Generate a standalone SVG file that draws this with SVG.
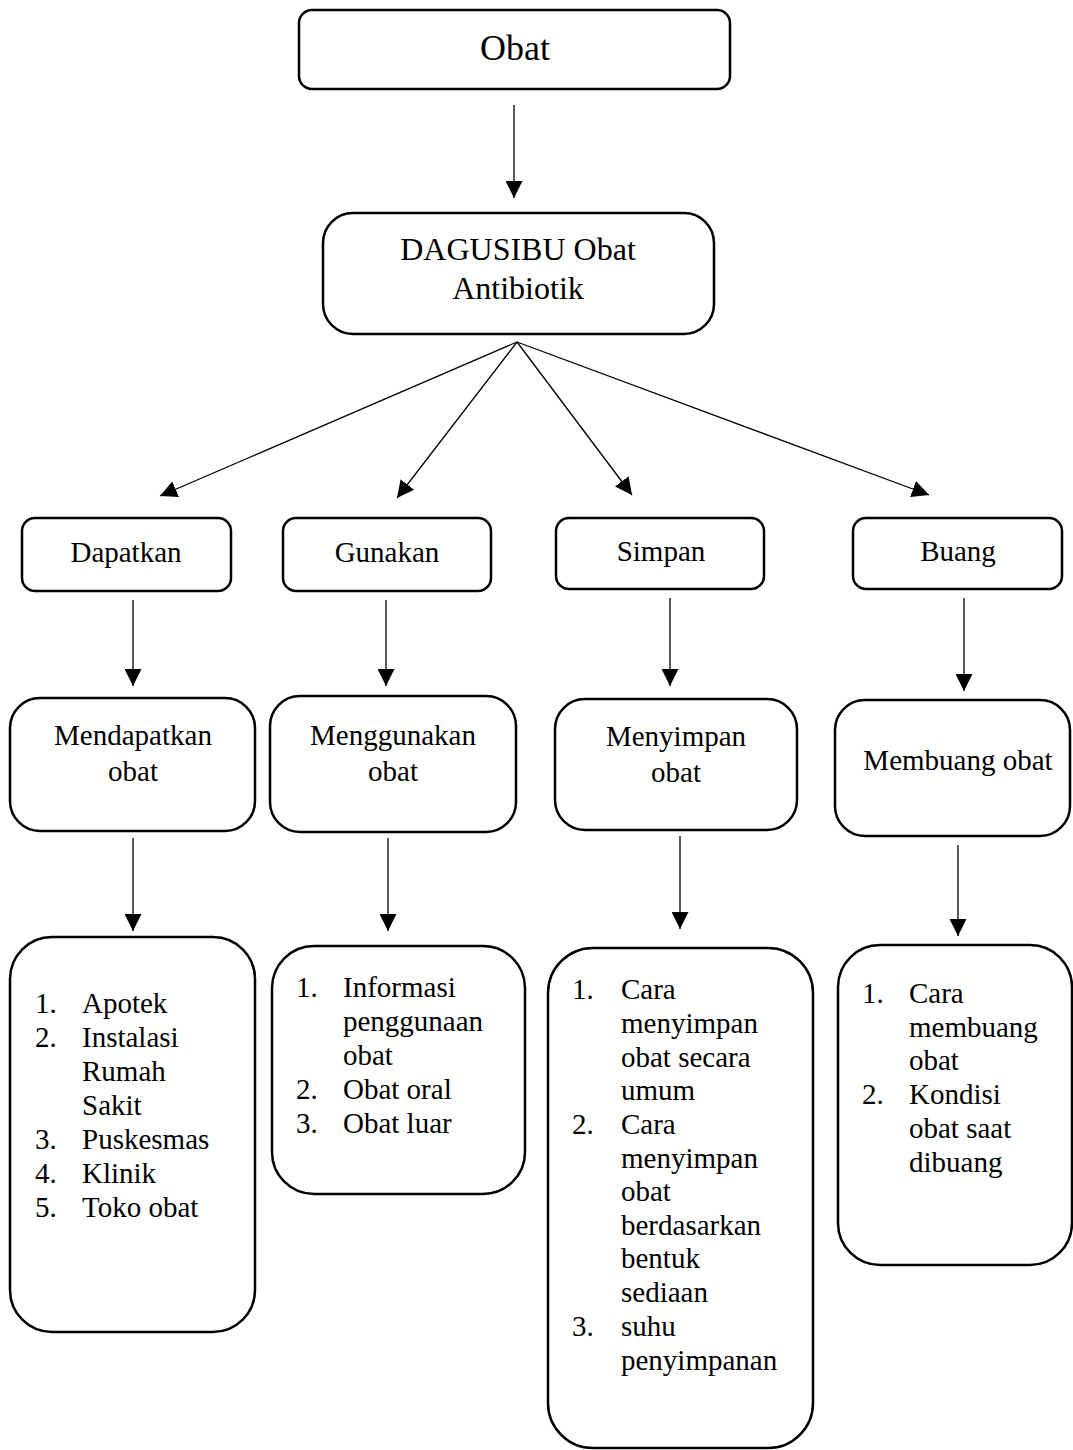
<svg xmlns="http://www.w3.org/2000/svg" width="1073" height="1450" viewBox="0 0 1073 1450">
<defs>
<style>
.box{fill:#fff;stroke:#000;stroke-width:2.5}
.t{font-family:"Liberation Serif","Times New Roman",serif;fill:#000;font-size:29px}
.c{text-anchor:middle}
.conn line{stroke:#000;stroke-width:1.3;marker-end:url(#ah)}
</style>
<marker id="ah" markerUnits="userSpaceOnUse" markerWidth="17" markerHeight="17" refX="16" refY="8" orient="auto" viewBox="0 0 16 16">
<path d="M0,0 L16,8 L0,16 z" fill="#000"/>
</marker>
</defs>
<rect width="1073" height="1450" fill="#fff"/>

<g id="conns" class="conn">
<line x1="514" y1="105" x2="514" y2="198"/>
<line x1="517" y1="342" x2="160" y2="496"/>
<line x1="517" y1="342" x2="397" y2="498"/>
<line x1="517" y1="342" x2="632" y2="495"/>
<line x1="517" y1="342" x2="929" y2="495"/>
<line x1="133" y1="600" x2="133" y2="686"/>
<line x1="386" y1="600" x2="386" y2="686"/>
<line x1="670" y1="598" x2="670" y2="686"/>
<line x1="964" y1="598" x2="964" y2="691"/>
<line x1="133" y1="838" x2="133" y2="931"/>
<line x1="388" y1="838" x2="388" y2="931"/>
<line x1="680" y1="836" x2="680" y2="929"/>
<line x1="958" y1="845" x2="958" y2="936"/>
</g>

<g id="obat">
<rect class="box" x="299" y="10" width="431" height="79" rx="13"/>
<text class="t c" x="515" y="60" style="font-size:36px">Obat</text>
</g>

<g id="dagusibu">
<rect class="box" x="323" y="213" width="391" height="121" rx="30"/>
<text class="t c" x="518" y="260" style="font-size:32px">DAGUSIBU Obat</text>
<text class="t c" x="518" y="299" style="font-size:32px">Antibiotik</text>
</g>

<g id="dapatkan">
<rect class="box" x="22" y="518" width="209" height="73" rx="13"/>
<text class="t c" x="126" y="562">Dapatkan</text>
</g>
<g id="gunakan">
<rect class="box" x="283" y="518" width="208" height="73" rx="13"/>
<text class="t c" x="387" y="562">Gunakan</text>
</g>
<g id="simpan">
<rect class="box" x="556" y="518" width="208" height="71" rx="13"/>
<text class="t c" x="661" y="561">Simpan</text>
</g>
<g id="buang">
<rect class="box" x="853" y="518" width="209" height="71" rx="13"/>
<text class="t c" x="958" y="561">Buang</text>
</g>

<g id="mendapatkan">
<rect class="box" x="10" y="698" width="245" height="133" rx="30"/>
<text class="t c" x="133" y="745">Mendapatkan</text>
<text class="t c" x="133" y="781">obat</text>
</g>
<g id="menggunakan">
<rect class="box" x="270" y="696" width="246" height="136" rx="30"/>
<text class="t c" x="393" y="745">Menggunakan</text>
<text class="t c" x="393" y="781">obat</text>
</g>
<g id="menyimpan">
<rect class="box" x="555" y="699" width="242" height="131" rx="30"/>
<text class="t c" x="676" y="746">Menyimpan</text>
<text class="t c" x="676" y="782">obat</text>
</g>
<g id="membuang">
<rect class="box" x="835" y="700" width="235" height="136" rx="30"/>
<text class="t c" x="958" y="770">Membuang obat</text>
</g>

<g id="list-dapatkan">
<rect class="box" x="10" y="937" width="245" height="395" rx="42"/>
<text class="t" x="35" y="1013">1.</text><text class="t" x="82" y="1013">Apotek</text>
<text class="t" x="35" y="1047">2.</text><text class="t" x="82" y="1047">Instalasi</text>
<text class="t" x="82" y="1081">Rumah</text>
<text class="t" x="82" y="1115">Sakit</text>
<text class="t" x="35" y="1149">3.</text><text class="t" x="82" y="1149">Puskesmas</text>
<text class="t" x="35" y="1183">4.</text><text class="t" x="82" y="1183">Klinik</text>
<text class="t" x="35" y="1217">5.</text><text class="t" x="82" y="1217">Toko obat</text>
</g>

<g id="list-gunakan">
<rect class="box" x="272" y="946" width="253" height="248" rx="42"/>
<text class="t" x="296" y="997">1.</text><text class="t" x="343" y="997">Informasi</text>
<text class="t" x="343" y="1031">penggunaan</text>
<text class="t" x="343" y="1065">obat</text>
<text class="t" x="296" y="1099">2.</text><text class="t" x="343" y="1099">Obat oral</text>
<text class="t" x="296" y="1133">3.</text><text class="t" x="343" y="1133">Obat luar</text>
</g>

<g id="list-simpan">
<rect class="box" x="548" y="948" width="265" height="500" rx="45"/>
<text class="t" x="572" y="999">1.</text><text class="t" x="621" y="999">Cara</text>
<text class="t" x="621" y="1033">menyimpan</text>
<text class="t" x="621" y="1067">obat secara</text>
<text class="t" x="621" y="1100">umum</text>
<text class="t" x="572" y="1134">2.</text><text class="t" x="621" y="1134">Cara</text>
<text class="t" x="621" y="1168">menyimpan</text>
<text class="t" x="621" y="1201">obat</text>
<text class="t" x="621" y="1235">berdasarkan</text>
<text class="t" x="621" y="1268">bentuk</text>
<text class="t" x="621" y="1302">sediaan</text>
<text class="t" x="572" y="1336">3.</text><text class="t" x="621" y="1336">suhu</text>
<text class="t" x="621" y="1370">penyimpanan</text>
</g>

<g id="list-buang">
<rect class="box" x="838" y="945" width="234" height="320" rx="42"/>
<text class="t" x="862" y="1003">1.</text><text class="t" x="909" y="1003">Cara</text>
<text class="t" x="909" y="1037">membuang</text>
<text class="t" x="909" y="1070">obat</text>
<text class="t" x="862" y="1104">2.</text><text class="t" x="909" y="1104">Kondisi</text>
<text class="t" x="909" y="1138">obat saat</text>
<text class="t" x="909" y="1172">dibuang</text>
</g>
</svg>
